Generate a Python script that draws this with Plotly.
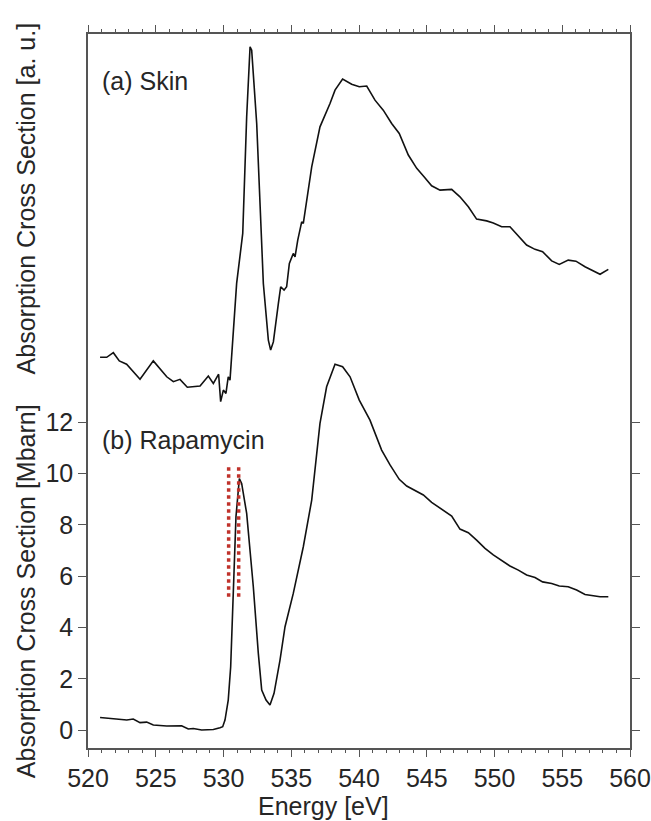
import plotly.graph_objects as go

# Energy axis ticks
x_ticks = [520, 525, 530, 535, 540, 545, 550, 555, 560]
y_ticks = [0, 2, 4, 6, 8, 10, 12]

# (a) Skin spectrum (arbitrary units, drawn above the Rapamycin spectrum)
skin_energy = [520.89, 521.38, 521.87, 522.31, 522.85, 523.84, 524.82, 525.81, 526.30, 526.79,
               527.33, 528.27, 528.88, 529.25, 529.64, 529.79, 529.99, 530.18, 530.35, 530.48,
               530.97, 531.42, 531.71, 531.96, 532.08, 532.45, 532.94, 533.31, 533.48, 533.68,
               534.05, 534.22, 534.47, 534.66, 534.86, 535.15, 535.28, 535.48, 535.77, 535.89,
               536.51, 537.12, 537.86, 538.23, 538.79, 539.46, 540.02, 540.57, 541.18, 541.79,
               542.41, 542.97, 543.64, 544.26, 544.80, 545.36, 545.98, 546.84, 547.45, 548.07,
               548.68, 549.42, 549.91, 550.53, 551.14, 551.76, 552.37, 552.99, 553.55, 554.22,
               554.78, 555.44, 556.01, 556.68, 557.79, 558.40]
skin_au = [14.54, 14.54, 14.72, 14.40, 14.27, 13.68, 14.40, 13.78, 13.59, 13.68,
           13.37, 13.42, 13.81, 13.52, 13.88, 12.81, 13.26, 13.13, 13.78, 13.65,
           17.42, 19.37, 23.92, 26.65, 26.52, 23.66, 17.42, 15.21, 14.82, 15.14,
           16.64, 17.29, 17.16, 17.29, 18.20, 18.59, 18.46, 19.11, 19.82, 19.76,
           21.97, 23.53, 24.44, 24.96, 25.39, 25.19, 25.09, 25.12, 24.57, 24.18,
           23.66, 23.27, 22.43, 21.91, 21.58, 21.23, 21.06, 21.09, 20.80, 20.41,
           19.93, 19.86, 19.78, 19.63, 19.63, 19.27, 18.92, 18.75, 18.66, 18.30,
           18.16, 18.33, 18.29, 18.07, 17.78, 17.97]

# (b) Rapamycin spectrum [Mbarn]
rapa_energy = [520.89, 521.87, 522.86, 523.34, 523.84, 524.33, 524.82, 525.81, 526.91, 527.40,
               527.77, 528.39, 529.25, 529.74, 529.94, 530.11, 530.35, 530.53, 530.72, 530.92,
               531.17, 531.34, 531.71, 532.20, 532.57, 532.82, 533.14, 533.43, 533.73, 534.17,
               534.54, 535.15, 535.89, 536.51, 537.12, 537.61, 538.23, 538.79, 539.34, 540.02,
               540.81, 541.67, 542.29, 542.97, 543.52, 544.13, 544.75, 545.36, 545.98, 546.84,
               547.45, 548.07, 548.68, 549.30, 549.91, 550.53, 551.14, 551.76, 552.37, 552.99,
               553.55, 554.22, 554.78, 555.44, 556.06, 556.68, 557.79, 558.40]
rapa_mbarn = [0.49, 0.45, 0.39, 0.43, 0.29, 0.31, 0.20, 0.16, 0.17, 0.04,
              0.06, 0.00, 0.02, 0.09, 0.13, 0.39, 1.17, 2.47, 5.72, 8.32,
              9.81, 9.62, 8.45, 5.59, 2.99, 1.56, 1.17, 0.98, 1.43, 2.73,
              4.03, 5.33, 7.15, 8.97, 11.96, 13.39, 14.27, 14.17, 13.78, 12.87,
              12.09, 10.92, 10.34, 9.78, 9.52, 9.33, 9.17, 8.88, 8.65, 8.35,
              7.84, 7.70, 7.41, 7.09, 6.83, 6.60, 6.40, 6.24, 6.05, 5.95,
              5.78, 5.72, 5.62, 5.59, 5.46, 5.29, 5.20, 5.20]

# red dotted markers at the pre-edge peak
marker_energy = [530.38, 531.12]
marker_span = [5.2, 10.35]

FONT = "Liberation Sans, Arial, sans-serif"
TXT = "#262626"
AX = "#555555"

fig = go.Figure()
fig.add_trace(go.Scatter(x=skin_energy, y=skin_au, mode="lines",
                         line=dict(color="#111111", width=1.6), showlegend=False))
fig.add_trace(go.Scatter(x=rapa_energy, y=rapa_mbarn, mode="lines",
                         line=dict(color="#111111", width=1.6), showlegend=False))
for e in marker_energy:
    fig.add_trace(go.Scatter(x=[e, e], y=marker_span, mode="lines",
                             line=dict(color="#c0322b", width=3.5, dash="dot"),
                             showlegend=False))

fig.update_layout(
    width=651, height=821,
    margin=dict(l=88, r=21, t=34, b=73),
    paper_bgcolor="white", plot_bgcolor="white",
    font=dict(family=FONT, size=25, color=TXT),
    xaxis=dict(range=[520, 560], tickvals=x_ticks, ticks="outside", ticklen=7,
               tickwidth=1.3, tickcolor=AX, showline=True, linecolor=AX, linewidth=1.5,
               mirror="ticks", showgrid=False, zeroline=False, automargin=False,
               tickfont=dict(size=25, color=TXT),
               minor=dict(dtick=1, ticks="outside", ticklen=3, tickcolor=AX, tickwidth=1.2)),
    yaxis=dict(range=[-0.70, 27.15], tickvals=y_ticks, ticks="outside", ticklen=8,
               tickwidth=1.3, tickcolor=AX, showline=True, linecolor=AX, linewidth=1.5,
               mirror="ticks", showgrid=False, zeroline=False, automargin=False,
               tickfont=dict(size=25, color=TXT)),
)

fig.add_annotation(text="(a) Skin", xref="x", yref="y", x=520.9, y=25.3,
                   xanchor="left", yanchor="middle", showarrow=False,
                   font=dict(size=25, color=TXT))
fig.add_annotation(text="(b) Rapamycin", xref="x", yref="y", x=520.9, y=11.3,
                   xanchor="left", yanchor="middle", showarrow=False,
                   font=dict(size=25, color=TXT))
fig.add_annotation(text="Absorption Cross Section [a. u.]", xref="paper", yref="paper",
                   x=-0.114, y=0.770, textangle=-90, xanchor="center", yanchor="middle",
                   showarrow=False, font=dict(size=25, color=TXT))
fig.add_annotation(text="Absorption Cross Section [Mbarn]", xref="paper", yref="paper",
                   x=-0.114, y=0.220, textangle=-90, xanchor="center", yanchor="middle",
                   showarrow=False, font=dict(size=25, color=TXT))
fig.add_annotation(text="Energy [eV]", xref="paper", yref="paper",
                   x=0.434, y=-0.081, xanchor="center", yanchor="middle",
                   showarrow=False, font=dict(size=25, color=TXT))

fig.write_html("out.html")
